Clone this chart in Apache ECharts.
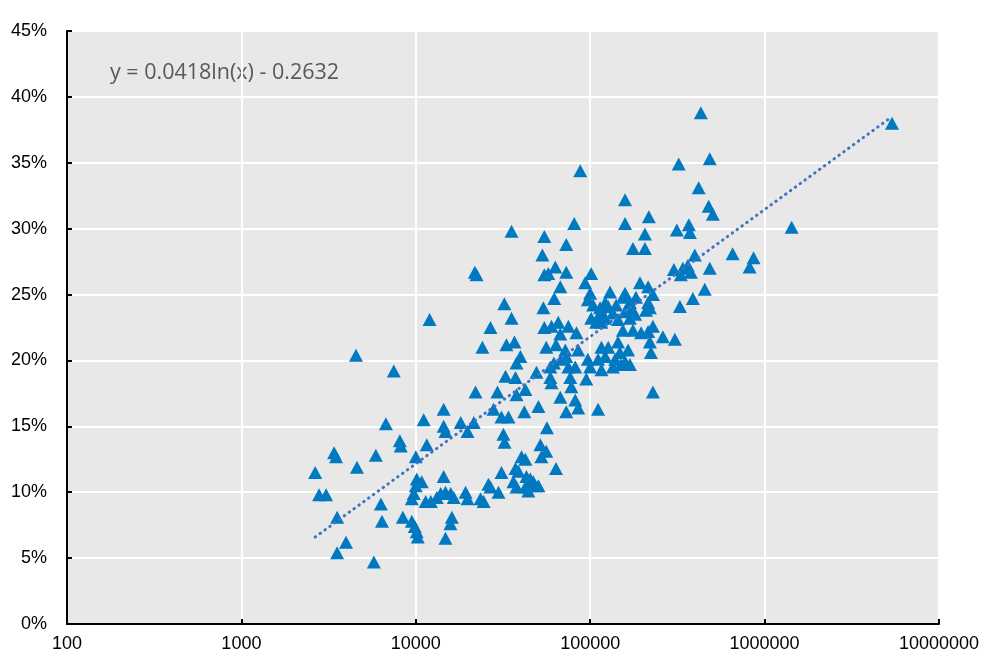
<!DOCTYPE html>
<html>
<head>
<meta charset="utf-8">
<script src="https://cdn.jsdelivr.net/npm/echarts@6/dist/echarts.min.js"></script>
<style>
  html, body { margin: 0; padding: 0; background: #fff; }
  #chart { width: 982px; height: 653px; }
</style>
</head>
<body>
<div id="chart"></div>
<script>
// x on a log scale, y in percent
const xTicks = [100, 1000, 10000, 100000, 1000000, 10000000]
const yTicks = [0, 5, 10, 15, 20, 25, 30, 35, 40, 45]

const points = [
  // left of 20000
  [2650, 11.5], [2790, 9.8], [3060, 9.8], [3400, 13.0], [3490, 12.7], [3540, 8.1], [3540, 5.4],
  [3980, 6.2], [4540, 20.4], [4600, 11.9], [5750, 4.7], [5900, 12.8], [6310, 9.1], [6400, 7.8],
  [6740, 15.2], [7480, 19.2], [8100, 13.9], [8200, 13.5], [8430, 8.1], [9490, 7.8], [9870, 7.4],
  [10000, 12.7], [10130, 7.0], [10260, 6.6], [10130, 11.0], [10820, 10.8], [10000, 10.5], [9740, 9.9],
  [9490, 9.5], [11100, 15.5], [11560, 13.6], [12000, 23.1], [11400, 9.3], [12200, 9.3], [14450, 16.3],
  [14450, 15.0], [14800, 14.6], [14450, 11.2], [14800, 6.5], [16100, 8.1], [15800, 7.6], [13200, 9.6],
  [13900, 9.9], [14800, 10.0], [15850, 9.9], [16500, 9.6], [19300, 10.0], [19800, 9.5], [23500, 9.5],
  [24500, 9.3], [26100, 10.6], [26800, 10.4], [29800, 10.0], [18100, 15.3], [19800, 14.6], [21500, 15.3],
  [22000, 17.6], [24100, 21.0], [21800, 26.7], [22300, 26.5],
  // 25000 - 50000
  [26800, 22.5], [32200, 24.3], [35400, 23.2], [33100, 21.2], [36800, 21.4], [39800, 20.3], [37800, 19.8],
  [32700, 18.8], [37300, 18.7], [29400, 17.6], [35400, 29.8], [27900, 16.3], [31000, 15.7], [34000, 15.7],
  [31800, 14.4], [32300, 13.8], [41900, 16.1], [37800, 17.4], [42500, 17.8], [31000, 11.5], [37300, 11.8],
  [38800, 11.6], [36300, 10.8], [37800, 10.4], [40400, 12.7], [42500, 12.5], [43100, 11.2], [45400, 11.0],
  [47200, 10.8], [42500, 10.4], [44200, 10.1], [48500, 10.5], [49200, 19.1],
  // 50000 - 110000
  [50500, 16.5], [56500, 14.9], [51800, 13.6], [56000, 13.1], [52500, 12.7], [63700, 11.8], [50500, 10.5],
  [54600, 29.4], [53200, 28.0], [72900, 28.8], [81000, 30.4], [54600, 26.5], [57500, 26.6], [63100, 27.1],
  [72900, 26.7], [67400, 25.6], [62200, 24.7], [53900, 24.0], [54600, 22.5], [60000, 22.6], [65600, 22.9],
  [75000, 22.6], [83400, 22.1], [56000, 21.0], [63700, 21.2], [72000, 20.8], [67400, 22.0], [85400, 20.8],
  [68300, 20.1], [75000, 19.5], [82100, 19.5], [72900, 20.3], [59100, 18.7], [60000, 18.3], [76900, 18.7],
  [78000, 18.0], [95000, 18.6], [67400, 17.2], [82100, 17.0], [85400, 16.4], [72900, 16.1], [87700, 34.4],
  [93600, 25.9], [100000, 25.1], [101300, 26.6], [97000, 24.6], [104000, 24.2], [97000, 20.1], [100000, 19.5],
  [101300, 23.2], [108000, 22.9], [111000, 16.3], [59100, 19.5], [61900, 19.8],
  // 110000 - 700000
  [111000, 23.3], [114000, 24.0], [127000, 24.1], [141000, 24.2], [130000, 25.2], [122000, 24.4], [116000, 23.6],
  [135000, 23.6], [158500, 23.7], [171500, 23.8], [181000, 23.5], [169000, 23.2], [122000, 23.2], [116000, 22.9],
  [144500, 23.1], [154000, 22.3], [176000, 22.3], [196000, 22.1], [215000, 22.2], [229000, 22.6], [261000, 21.8],
  [306000, 21.6], [220000, 21.4], [223000, 20.6], [116000, 21.0], [127000, 21.0], [144500, 21.4], [148000, 20.6],
  [165000, 20.8], [158500, 19.9], [135000, 19.5], [150000, 19.7], [169000, 19.7], [116000, 19.3], [111000, 20.1],
  [122000, 20.3], [139000, 20.1], [193000, 25.9], [215000, 25.6], [229000, 25.0], [154000, 24.8], [169000, 24.4],
  [183000, 24.8], [215000, 24.4], [220000, 24.0], [209000, 23.8], [158500, 32.2], [158500, 30.4], [217000, 30.9],
  [206000, 29.6], [176000, 28.5], [206000, 28.5], [314000, 29.9], [368000, 30.3], [373000, 29.7], [302000, 26.9],
  [340000, 27.0], [363000, 27.2], [378000, 26.7], [331000, 26.5], [398000, 28.0], [485000, 27.0], [656000, 28.1],
  [454000, 25.4], [388000, 24.7], [327000, 24.1], [431000, 38.8], [322000, 34.9], [485000, 35.3], [419000, 33.1],
  [478000, 31.7], [505000, 31.1], [229000, 17.6], [158500, 25.1],
  // far right
  [865000, 27.8], [821000, 27.1], [1430000, 30.1], [5380000, 38.0]
]

// logarithmic trendline, ends
const trendLine = [[2650, 6.6], [5380000, 38.5]]
const trendLabel = 'y = 0.0418ln(x) - 0.2632'

const labelFont = '"Liberation Sans", Arial, sans-serif'

const chart = echarts.init(document.getElementById('chart'))
chart.setOption({
  animation: false,
  backgroundColor: '#ffffff',
  grid: {
    left: 67,
    right: 40,
    top: 31,
    bottom: 28,
    show: true,
    backgroundColor: '#e8e8e8',
    borderWidth: 0
  },
  graphic: [{
    type: 'text',
    left: 110,
    top: 62,
    style: {
      text: trendLabel,
      font: '21.5px "Open Sans", "Noto Sans", sans-serif',
      fill: '#595959'
    }
  }],
  xAxis: {
    type: 'log',
    logBase: 10,
    min: xTicks[0],
    max: xTicks[xTicks.length - 1],
    axisLine: { show: true, lineStyle: { color: '#000', width: 2 } },
    axisTick: { show: true, inside: true, length: 5, lineStyle: { color: '#000', width: 2 } },
    axisLabel: {
      margin: 11,
      color: '#000',
      fontSize: 18,
      fontFamily: labelFont,
      formatter: v => String(Math.round(v))
    },
    splitLine: { show: true, lineStyle: { color: '#ffffff', width: 2 } }
  },
  yAxis: {
    type: 'value',
    min: yTicks[0],
    max: yTicks[yTicks.length - 1],
    interval: 5,
    axisLine: { show: true, lineStyle: { color: '#000', width: 2 } },
    axisTick: { show: true, inside: true, length: 5, lineStyle: { color: '#000', width: 2 } },
    axisLabel: {
      margin: 20,
      color: '#000',
      fontSize: 18,
      fontFamily: labelFont,
      formatter: '{value}%'
    },
    splitLine: { show: true, lineStyle: { color: '#ffffff', width: 2 } }
  },
  series: [
    {
      type: 'scatter',
      data: points,
      symbol: 'triangle',
      symbolSize: [14, 13],
      itemStyle: { color: '#0079c1', opacity: 1 },
      z: 2
    },
    {
      type: 'line',
      data: trendLine,
      symbol: 'none',
      silent: true,
      lineStyle: { color: '#4472c4', width: 3, type: [0.5, 5.5], cap: 'round' },
      z: 3
    }
  ]
})
</script>
</body>
</html>
